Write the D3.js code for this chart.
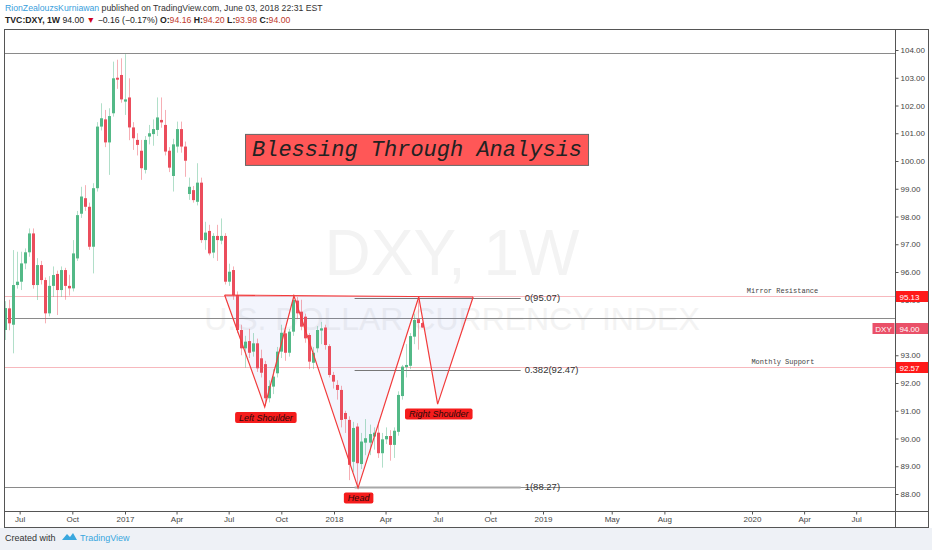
<!DOCTYPE html>
<html><head><meta charset="utf-8">
<script src="https://cdn.jsdelivr.net/npm/d3@7/dist/d3.min.js"></script>
<style>
html,body{margin:0;padding:0;background:#fff;}
svg{display:block;}
</style></head>
<body>
<svg id="c" width="932" height="550" font-family="'Liberation Sans',Arial,sans-serif"></svg>
<script>
// ---------- DATA ----------
const firstWeek = new Date(2016, 5, 5);   // weekly bars (Sunday stamps)
const lastWeek  = new Date(2018, 5, 3);
const open  = [93.91,94.69,94.10,95.53,95.65,96.31,96.71,97.39,95.53,96.25,95.71,94.51,95.50,95.93,95.35,96.07,95.50,95.41,96.49,98.10,98.66,98.35,96.91,99.02,101.24,101.50,100.67,101.72,103.00,103.10,102.14,102.29,101.21,100.76,100.37,99.68,100.88,100.97,101.12,101.48,101.30,100.37,99.46,100.52,101.15,100.52,98.81,98.95,98.53,99.22,97.15,97.48,96.70,97.30,97.13,97.30,95.65,96.07,95.17,93.91,93.25,93.51,93.13,93.43,92.89,92.68,91.45,91.87,92.35,93.13,93.79,93.09,93.85,94.97,94.57,94.39,93.73,92.73,93.25,93.89,94.00,93.33,92.29,91.93,91.75,90.92,90.67,89.16,90.43,89.08,89.85,89.85,90.07,90.21,89.47,89.97,90.09,89.77,90.24,91.53,92.57,92.62,93.67,94.30,94.16];
const high  = [94.95,95.00,96.79,96.73,96.73,96.85,97.57,97.57,96.50,96.40,95.80,95.85,96.20,96.05,96.20,96.15,95.90,97.15,98.20,99.07,99.13,98.50,99.20,101.40,102.08,101.84,101.90,103.58,103.65,103.70,103.85,102.98,101.40,101.00,100.76,100.90,101.30,101.50,102.29,102.29,101.84,100.50,100.80,101.42,101.42,100.70,99.40,99.10,99.92,99.40,97.81,97.70,97.40,97.70,97.93,97.40,96.30,96.20,95.30,94.10,93.70,93.95,93.80,93.60,93.20,92.80,92.10,92.50,93.30,94.10,93.90,93.95,95.17,95.10,95.00,94.50,93.80,93.30,94.05,94.20,94.10,93.40,92.40,92.10,91.90,91.00,90.80,90.60,90.55,90.20,90.70,90.50,90.40,90.60,90.20,90.40,90.30,90.40,91.70,92.65,93.40,93.80,94.50,94.95,94.20];
const low   = [93.55,93.90,93.07,95.40,95.35,96.10,96.55,95.40,94.99,95.55,94.15,94.40,95.10,94.45,95.10,95.00,95.15,95.30,96.40,97.95,98.20,96.80,95.95,98.90,101.10,100.50,99.50,101.60,102.60,102.10,101.66,100.75,100.40,100.20,99.32,99.55,100.60,100.55,100.90,101.20,100.20,99.60,98.90,100.30,100.30,99.43,98.60,98.50,98.40,97.05,96.80,96.60,96.50,96.40,97.00,95.55,95.50,95.00,93.80,93.00,92.55,92.90,92.95,92.40,92.20,91.17,91.30,91.60,92.20,92.90,92.80,92.95,93.70,94.30,93.90,93.45,92.50,92.50,93.10,93.40,93.20,92.20,91.80,91.40,90.40,90.20,88.50,88.80,88.25,88.90,89.40,89.40,89.60,89.30,88.95,89.80,89.20,89.30,90.10,91.40,92.20,92.50,93.40,93.20,93.98];
const close = [94.70,94.15,95.53,95.65,96.31,96.71,97.39,95.53,96.25,95.71,94.51,95.50,95.89,95.35,96.07,95.50,95.41,96.67,98.05,98.72,98.35,96.91,99.02,101.24,101.54,100.67,101.62,102.98,102.93,102.22,102.22,101.21,100.82,100.58,99.74,100.76,101.00,101.15,101.57,101.39,100.34,99.76,100.60,101.15,100.52,100.01,99.07,98.59,99.22,97.15,97.42,96.67,97.30,97.15,97.30,95.65,96.01,95.17,93.91,93.25,93.49,93.09,93.43,92.53,92.37,91.45,91.89,92.23,93.13,93.81,93.09,93.85,94.99,94.51,94.03,93.61,92.77,93.09,93.91,93.97,93.37,92.29,92.05,91.75,90.67,90.70,89.05,90.38,89.11,89.89,90.01,90.16,90.21,89.47,89.97,90.09,89.77,90.28,91.57,92.59,92.65,93.69,94.27,94.16,94.00];

const priceTicks = [88,89,90,91,92,93,94,95,96,97,98,99,100,101,102,103,104];
const timeTickDates = [new Date(2016,6,1),new Date(2016,9,1),new Date(2017,0,1),new Date(2017,3,1),new Date(2017,6,1),new Date(2017,9,1),new Date(2018,0,1),new Date(2018,3,1),new Date(2018,6,1),new Date(2018,9,1),new Date(2019,0,1),new Date(2019,4,1),new Date(2019,7,1),new Date(2020,0,1),new Date(2020,3,1),new Date(2020,6,1)];
const timeTickLabels = ["Jul","Oct","2017","Apr","Jul","Oct","2018","Apr","Jul","Oct","2019","May","Aug","2020","Apr","Jul"];

const grayLevels = [103.90, 94.33, 88.27];
const pinkLevels = [95.13, 92.57];
const lastPrice = 94.00;

// inverse head & shoulders drawing (date, price)
const patternDates  = [new Date(2017,5,24),new Date(2017,8,2),new Date(2017,9,23),new Date(2018,1,12),new Date(2018,4,29),new Date(2018,6,1),new Date(2018,8,1)];
const patternPrices = [95.17,91.14,95.14,88.22,95.10,91.24,95.10];

const fibStart = new Date(2018,1,6), fibEnd = new Date(2018,10,23);
const fibRatios = ["0","0.382","1"];
const fibPrices = [95.07,92.47,88.27];

const noteTexts  = ["Left Shoulder","Head","Right Shoulder"];
const noteDates  = [new Date(2017,8,4),new Date(2018,1,13),new Date(2018,6,3)];
const notePrices = [90.76,87.86,90.88];

const levelTexts  = ["Mirror Resistance","Monthly Support"];
const levelDates  = [new Date(2019,11,23),new Date(2019,11,31)];
const levelPrices = [95.13,92.57];

const titleText = "Blessing Through Analysis";
const titleDate = new Date(2018,4,26), titlePrice = 100.40;

// ---------- LAYOUT ----------
const svg = d3.select("#c");
const MONO = "'Liberation Mono','Courier New',monospace";
const L = 4.5, T = 29.5, PR = 895.5, PB = 511.5, R = 928.5, B = 527.5;
const weeks = d3.timeWeek.range(firstWeek, d3.timeDay.offset(lastWeek,1));
const bars = weeks.map((d,i)=>({d, o:open[i], h:high[i], l:low[i], c:close[i]}));

const x = d3.scaleTime().domain([new Date(2017,0,1), new Date(2018,0,1)]).range([125, 334]);
const y = d3.scaleLinear().domain([88,104]).range([494,50]);

svg.append("rect").attr("x",0).attr("y",0).attr("width",932).attr("height",550).attr("fill","#fff");
svg.append("rect").attr("x",0).attr("y",B+0.5).attr("width",932).attr("height",550-B).attr("fill","#eef1f6");

const defs = svg.append("defs");
defs.append("clipPath").attr("id","plot").append("rect").attr("x",L).attr("y",T).attr("width",PR-L).attr("height",PB-T);
const plot = svg.append("g").attr("clip-path","url(#plot)");

// watermark
plot.append("text").attr("x",452).attr("y",275).attr("text-anchor","middle")
  .attr("font-size",64).attr("fill","#f3f3f3").text("DXY, 1W");
plot.append("text").attr("x",452).attr("y",330).attr("text-anchor","middle")
  .attr("font-size",32).attr("fill","#f3f3f3").text("U.S. DOLLAR CURRENCY INDEX");

// horizontal levels
plot.selectAll(".gl").data(grayLevels).join("line")
  .attr("x1",L).attr("x2",PR).attr("y1",d=>Math.round(y(d))+0.5).attr("y2",d=>Math.round(y(d))+0.5)
  .attr("stroke","#8a8a8a").attr("stroke-width",1);
plot.selectAll(".pl").data(pinkLevels).join("line")
  .attr("x1",L).attr("x2",PR).attr("y1",d=>Math.round(y(d))+0.5).attr("y2",d=>Math.round(y(d))+0.5)
  .attr("stroke","#f7b8bd").attr("stroke-width",1);

// pattern fill
const pp = patternDates.map((d,i)=>[x(d), y(patternPrices[i])]);
[[0,1,2],[2,3,4],[4,5,6]].forEach(tri=>{
  plot.append("path").attr("d", d3.line()(tri.map(i=>pp[i]))+"Z").attr("fill","rgba(80,120,220,0.07)");
});

// fib lines
plot.selectAll(".fib").data(fibPrices).join("line")
  .attr("x1",x(fibStart)).attr("x2",x(fibEnd))
  .attr("y1",d=>Math.round(y(d))+0.5).attr("y2",d=>Math.round(y(d))+0.5)
  .attr("stroke",(d,i)=>i==2?"#a8a8a8":"#777").attr("stroke-width",(d,i)=>i==2?2:1);
plot.selectAll(".fibt").data(fibPrices).join("text")
  .attr("x",x(fibEnd)+4).attr("y",d=>y(d)+3.5).attr("font-size",9.5).attr("fill","#333")
  .text((d,i)=>fibRatios[i]+"("+d.toFixed(2)+")");

// candles
const bw = 3;
const cg = plot.append("g");
const up = "#53b987", dn = "#eb4d5c";
cg.selectAll(".w").data(bars).join("line")
  .attr("x1",d=>Math.round(x(d.d))+0.5).attr("x2",d=>Math.round(x(d.d))+0.5)
  .attr("y1",d=>y(d.h)).attr("y2",d=>y(d.l))
  .attr("stroke",d=>d.c>=d.o?up:dn).attr("stroke-opacity",0.45).attr("stroke-width",1);
cg.selectAll(".b").data(bars).join("rect")
  .attr("x",d=>Math.round(x(d.d))+0.5-bw/2).attr("width",bw)
  .attr("y",d=>y(Math.max(d.o,d.c)))
  .attr("height",d=>Math.max(1.2, Math.abs(y(d.o)-y(d.c))))
  .attr("fill",d=>d.c>=d.o?up:dn);

// pattern lines
plot.append("path").attr("d", d3.line()(pp)).attr("fill","none").attr("stroke","#f23b3b").attr("stroke-width",1.2);
plot.append("line").attr("x1",pp[0][0]).attr("y1",pp[0][1]).attr("x2",pp[6][0]).attr("y2",pp[6][1])
  .attr("stroke","#f23b3b").attr("stroke-width",1.2);

// notes
noteTexts.forEach((t,i)=>{
  const g = plot.append("g").attr("transform",`translate(${x(noteDates[i])},${y(notePrices[i])})`);
  const tx = g.append("text").attr("text-anchor","middle").attr("y",3.2).attr("font-size",9)
    .attr("font-style","italic").attr("fill","#2b0a0a").text(t);
  const w = tx.node().getComputedTextLength()+8;
  g.insert("rect","text").attr("x",-w/2).attr("y",-5.5).attr("width",w).attr("height",11).attr("rx",2)
    .attr("fill","#f51c1c");
});

// level texts
levelTexts.forEach((t,i)=>{
  plot.append("text").attr("x",x(levelDates[i])).attr("y",y(levelPrices[i])-3)
    .attr("font-family",MONO).attr("font-size",7).attr("fill","#444").text(t);
});

// title box
{
  const cx = x(titleDate), cy = y(titlePrice);
  plot.append("rect").attr("x",cx-171.5).attr("y",cy-15.5).attr("width",343).attr("height",31)
    .attr("fill","#ff5757").attr("stroke","#666").attr("stroke-width",1);
  plot.append("text").attr("x",cx).attr("y",cy+6).attr("text-anchor","middle")
    .attr("font-family",MONO).attr("font-style","italic")
    .attr("font-size",22).attr("fill","#222").text(titleText);
}

// frame
svg.append("rect").attr("x",L).attr("y",T).attr("width",R-L).attr("height",B-T).attr("fill","none").attr("stroke","#555");
svg.append("line").attr("x1",PR).attr("x2",PR).attr("y1",T).attr("y2",B).attr("stroke","#555");
svg.append("line").attr("x1",L).attr("x2",R).attr("y1",PB).attr("y2",PB).attr("stroke","#555");

// price axis
const ya = svg.append("g").attr("transform",`translate(${PR},0)`)
  .call(d3.axisRight(y).tickValues(priceTicks).tickFormat(d3.format(".2f")).tickSize(3).tickPadding(2));
ya.select(".domain").remove();
ya.selectAll("line").attr("stroke","#555");
ya.selectAll("text").attr("font-size",8).attr("fill","#444");

// price labels
function priceTag(v, fill){
  const g = svg.append("g").attr("transform",`translate(${PR},${Math.round(y(v))+0.5})`);
  g.append("rect").attr("x",0.5).attr("y",-5.5).attr("width",R-PR-1).attr("height",11).attr("fill",fill);
  g.append("text").attr("x",4).attr("y",3).attr("font-size",8).attr("fill","#fff").text(v.toFixed(2));
}
priceTag(pinkLevels[0], "#ff1a1a");
priceTag(pinkLevels[1], "#ff1a1a");
priceTag(lastPrice, "#ea5068");
{
  const g = svg.append("g").attr("transform",`translate(${PR},${Math.round(y(lastPrice))+0.5})`);
  g.append("rect").attr("x",-23).attr("y",-5.5).attr("width",22).attr("height",11).attr("fill","#ea5068");
  g.append("text").attr("x",-12).attr("y",3).attr("text-anchor","middle").attr("font-size",8).attr("fill","#fff").text("DXY");
}

// time axis
const xa = svg.append("g").attr("transform",`translate(0,${PB})`)
  .call(d3.axisBottom(x).tickValues(timeTickDates).tickFormat((d,i)=>timeTickLabels[i]).tickSize(3).tickPadding(2));
xa.select(".domain").remove();
xa.selectAll("line").attr("stroke","#555");
xa.selectAll("text").attr("font-size",8).attr("fill","#444");

// header
const h1 = svg.append("text").attr("x",5).attr("y",11).attr("font-size",8.7).attr("fill","#333");
h1.append("tspan").attr("fill","#3aa0dc").text("RionZealouzsKurniawan");
h1.append("tspan").text(" published on TradingView.com, June 03, 2018 22:31 EST");
const h2 = svg.append("text").attr("x",5).attr("y",23).attr("font-size",8.7).attr("fill","#222");
h2.append("tspan").attr("font-weight","bold").text("TVC:DXY, 1W");
h2.append("tspan").text(" 94.00 ");
h2.append("tspan").attr("fill","#d0021b").text("▼");
h2.append("tspan").text(" −0.16 (−0.17%) ");
[["O:","94.16"],["H:","94.20"],["L:","93.98"],["C:","94.00"]].forEach(([k,v])=>{
  h2.append("tspan").attr("font-weight","bold").text(k);
  h2.append("tspan").attr("fill","#c0392b").text(v+" ");
});

// footer
svg.append("text").attr("x",5).attr("y",541).attr("font-size",9).attr("fill","#333").text("Created with");
const logo = svg.append("g").attr("transform","translate(62,533)");
logo.append("path").attr("d","M0,7 L5,1 L8,4 L11,0 L15,7 Z").attr("fill","#39a7de");
svg.append("text").attr("x",80).attr("y",541).attr("font-size",9).attr("fill","#39a7de").text("TradingView");
</script>
</body></html>
